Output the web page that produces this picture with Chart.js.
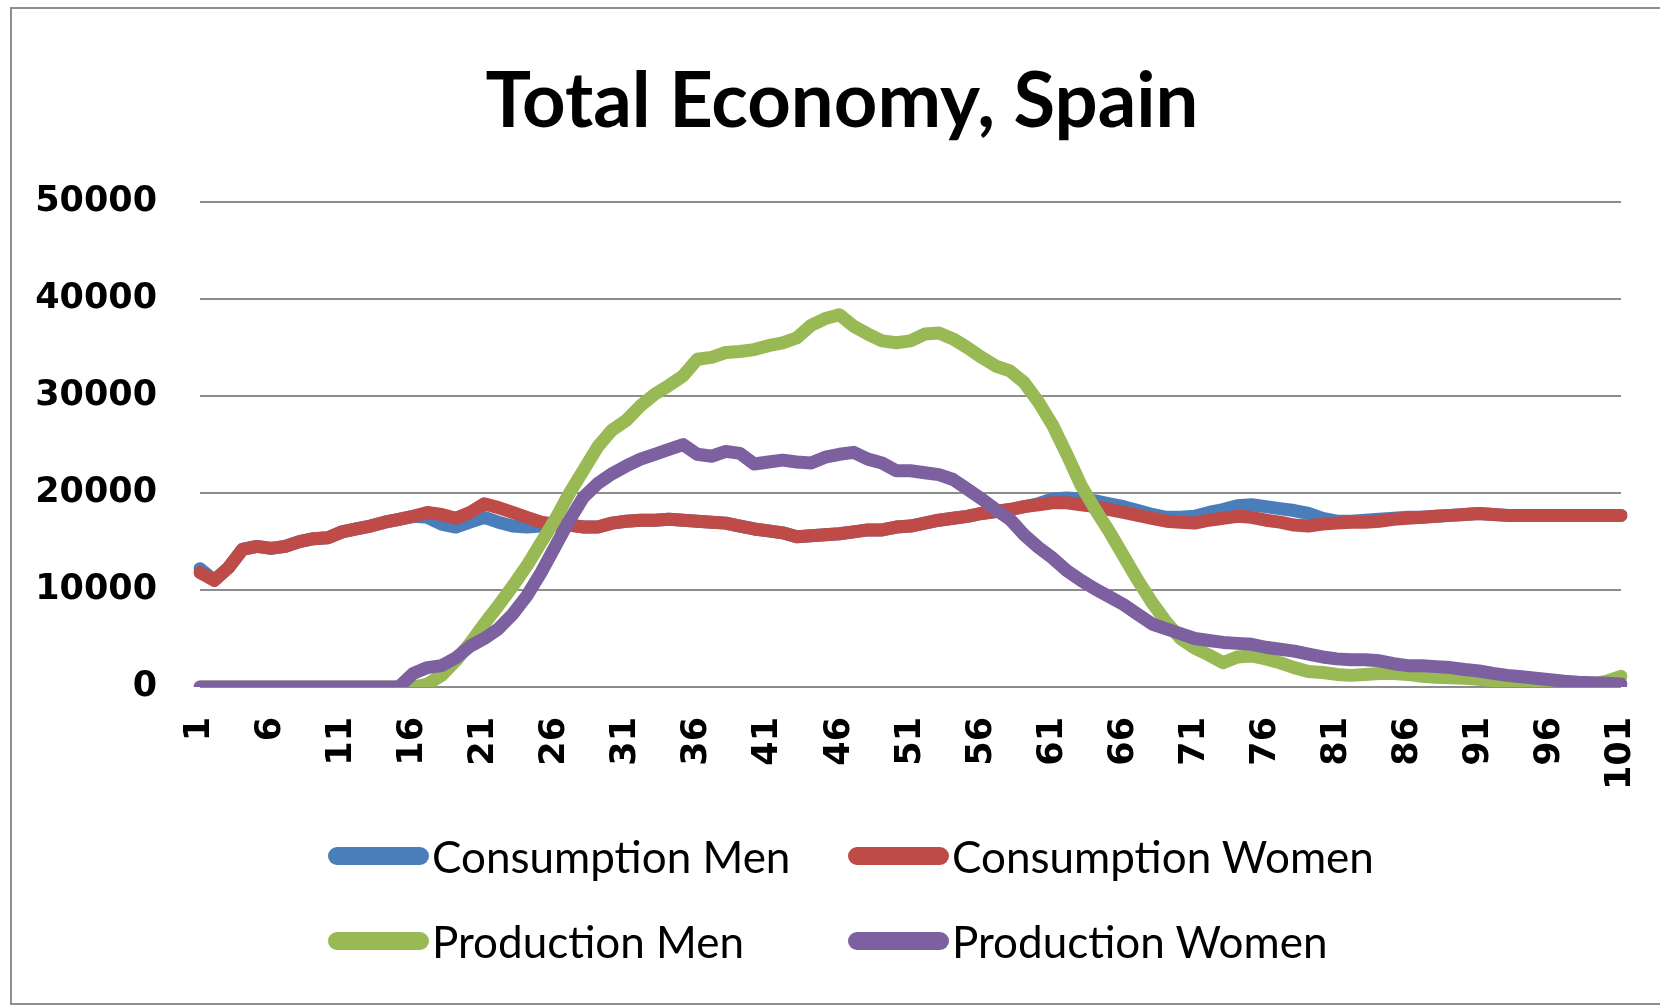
<!DOCTYPE html>
<html>
<head>
<meta charset="utf-8">
<title>Total Economy, Spain</title>
<script src="https://cdn.jsdelivr.net/npm/chart.js@4.4.1/dist/chart.umd.min.js"></script>
<style>
  html, body { margin: 0; padding: 0; background: #fff; }
  body { width: 1660px; height: 1006px; position: relative; overflow: hidden; }
  #frame { position: absolute; left: 10px; top: 7px; width: 1700px; height: 998px; box-sizing: border-box; border: 2px solid #8e8e8e; }
  #chartBox { position: absolute; left: 0; top: 0; width: 1660px; height: 1006px; }
  #legend { position: absolute; left: 328px; top: 813px; display: grid; grid-template-columns: 520px 520px; grid-auto-rows: 85px; font-family: Lato, sans-serif; font-size: 44px; color: #000; }
  .item { display: flex; align-items: center; white-space: nowrap; }
  .swatch { width: 101px; height: 18px; border-radius: 9px; margin-right: 3px; flex: none; }
</style>
</head>
<body>
<div id="frame"></div>
<div id="chartBox"><canvas id="chart"></canvas></div>
<div id="legend"></div>
<script>
// ages 1..101
const ages = Array.from({ length: 101 }, (_, i) => String(i + 1));
const yTicks = [0, 10000, 20000, 30000, 40000, 50000];

const consumptionMen = [
  12200, 11000, 12300, 14200, 14500, 14300, 14500, 15000, 15300, 15400,
  16000, 16300, 16600, 17000, 17300, 17600, 17500, 16800, 16500, 17000,
  17500, 17000, 16600, 16500, 16600, 16700, 16700, 16500, 16500, 16900,
  17100, 17200, 17200, 17300, 17200, 17100, 17000, 16900, 16600, 16300,
  16100, 15900, 15500, 15600, 15700, 15800, 16000, 16200, 16200, 16500,
  16600, 16900, 17200, 17400, 17600, 17900, 18100, 18300, 18600, 18900,
  19400, 19500, 19400, 19200, 18900, 18600, 18200, 17800, 17500, 17500,
  17600, 18000, 18300, 18700, 18800, 18600, 18400, 18200, 17900, 17400,
  17100, 17100, 17200, 17300, 17400, 17500, 17500, 17600, 17700, 17800,
  17900, 17800, 17700, 17700, 17700, 17700, 17700, 17700, 17700, 17700,
  17700
];

const consumptionWomen = [
  11800, 11000, 12300, 14200, 14500, 14300, 14500, 15000, 15300, 15400,
  16000, 16300, 16600, 17000, 17300, 17600, 18000, 17800, 17400, 18000,
  18900, 18500, 18000, 17500, 17000, 16800, 16700, 16500, 16500, 16900,
  17100, 17200, 17200, 17300, 17200, 17100, 17000, 16900, 16600, 16300,
  16100, 15900, 15500, 15600, 15700, 15800, 16000, 16200, 16200, 16500,
  16600, 16900, 17200, 17400, 17600, 17900, 18100, 18300, 18600, 18800,
  19000, 19000, 18800, 18600, 18300, 18000, 17700, 17400, 17100, 17000,
  16900, 17200, 17400, 17600, 17500, 17200, 17000, 16700, 16600, 16800,
  16900, 17000, 17000, 17100, 17300, 17400, 17500, 17600, 17700, 17800,
  17900, 17800, 17700, 17700, 17700, 17700, 17700, 17700, 17700, 17700,
  17700
];

const productionMen = [
  0, 0, 0, 0, 0, 0, 0, 0, 0, 0,
  0, 0, 0, 0, 0, 0, 300, 1200, 2700, 4500,
  6500, 8400, 10400, 12500, 14900, 17300, 20000, 22400, 24800, 26500,
  27500, 29000, 30200, 31100, 32100, 33800, 34000, 34500, 34600, 34800,
  35200, 35500, 36000, 37300, 38000, 38400, 37200, 36400, 35700, 35500,
  35700, 36400, 36500, 35900, 35000, 34000, 33100, 32600, 31400, 29400,
  27000, 24000, 20800, 18300, 16000, 13500, 11000, 8700, 6700, 5000,
  4000, 3300, 2500, 3100, 3200, 2900, 2500, 2000, 1600, 1500,
  1300, 1200, 1300, 1400, 1400, 1300, 1100, 1000, 950, 900,
  800, 650, 550, 450, 400, 300, 250, 250, 300, 600,
  1100
];

const productionWomen = [
  0, 0, 0, 0, 0, 0, 0, 0, 0, 0,
  0, 0, 0, 0, 0, 1400, 2000, 2200, 3000, 4200,
  5000, 6000, 7500, 9400, 11800, 14500, 17200, 19600, 21000, 22000,
  22800, 23500, 24000, 24500, 25000, 24000, 23800, 24300, 24100, 23000,
  23200, 23400, 23200, 23100, 23700, 24000, 24200, 23500, 23100, 22300,
  22300, 22100, 21900, 21400, 20400, 19400, 18300, 17300, 15700, 14400,
  13300, 12000, 11000, 10100, 9300, 8500, 7500, 6500, 6000, 5500,
  5000, 4800, 4600, 4500, 4400, 4100, 3900, 3700, 3400, 3100,
  2900, 2800, 2800, 2700, 2400, 2200, 2200, 2100, 2000, 1800,
  1650, 1400, 1200, 1050, 900, 750, 600, 500, 450, 380,
  300
];

const seriesNames = ['Consumption Men', 'Consumption Women', 'Production Men', 'Production Women'];
const seriesColors = ['#4A7EBB', '#BE4B48', '#98B954', '#7D60A0'];

const tickFont = { family: 'DejaVu Sans', size: 35, weight: 'bold' };

function lineSet(i, data) {
  return {
    label: seriesNames[i],
    data: data,
    borderColor: seriesColors[i],
    backgroundColor: seriesColors[i],
    borderWidth: 13,
    borderJoinStyle: 'round',
    borderCapStyle: 'round',
    pointRadius: 0,
    tension: 0,
    fill: false,
    order: 4 - i   // later series drawn on top, like Excel
  };
}

function buildLegend(chart) {
  const box = document.getElementById('legend');
  box.innerHTML = '';
  chart.data.datasets.forEach(ds => {
    const item = document.createElement('div');
    item.className = 'item';
    const sw = document.createElement('span');
    sw.className = 'swatch';
    sw.style.background = ds.borderColor;
    const txt = document.createElement('span');
    txt.textContent = ds.label;
    item.appendChild(sw);
    item.appendChild(txt);
    box.appendChild(item);
  });
}

function draw() {
  const ctx = document.getElementById('chart').getContext('2d');
  const chart = new Chart(ctx, {
    type: 'line',
    data: {
      labels: ages,
      datasets: [
        lineSet(0, consumptionMen),
        lineSet(1, consumptionWomen),
        lineSet(2, productionMen),
        lineSet(3, productionWomen)
      ]
    },
    options: {
      responsive: true,
      maintainAspectRatio: false,
      animation: false,
      // left/right padding keeps the title centred where the original has it
      layout: { padding: { left: 30, right: 6, top: 0, bottom: 0 } },
      plugins: {
        legend: { display: false },
        tooltip: { enabled: false },
        title: {
          display: true,
          text: 'Total Economy, Spain',
          color: '#000',
          font: { family: 'Lato', size: 76, weight: 'bold', lineHeight: 1.2 },
          padding: { top: 57, bottom: 54 }
        }
      },
      scales: {
        x: {
          type: 'category',
          offset: false,
          grid: { display: false, drawTicks: false },
          border: { display: false },
          ticks: {
            autoSkip: false,
            maxRotation: 90,
            minRotation: 90,
            padding: 30,
            color: '#000',
            font: tickFont,
            callback: function (value, index) {
              return index % 5 === 0 ? this.getLabelForValue(value) : null;
            }
          },
          afterFit: scale => {
            scale.height = 319;
            scale.paddingLeft = 0;
            scale.paddingRight = 0;
          }
        },
        y: {
          min: yTicks[0],
          max: yTicks[yTicks.length - 1],
          grid: { color: '#8c8c8c', lineWidth: 2, drawTicks: false },
          border: { display: false },
          ticks: {
            stepSize: yTicks[1] - yTicks[0],
            padding: 43,
            color: '#000',
            font: tickFont,
            callback: v => String(v)
          },
          afterFit: scale => { scale.width = 170; }
        },
        // empty spacer on the right so the plot ends where the original does
        spacer: {
          position: 'right',
          grid: { display: false, drawTicks: false },
          border: { display: false },
          ticks: { display: false },
          afterFit: scale => { scale.width = 33; }
        }
      }
    }
  });
  buildLegend(chart);
}

Promise.all([
  document.fonts.load('bold 76px Lato'),
  document.fonts.load('44px Lato'),
  document.fonts.load('bold 35px "DejaVu Sans"')
]).then(draw, draw);
</script>
</body>
</html>
